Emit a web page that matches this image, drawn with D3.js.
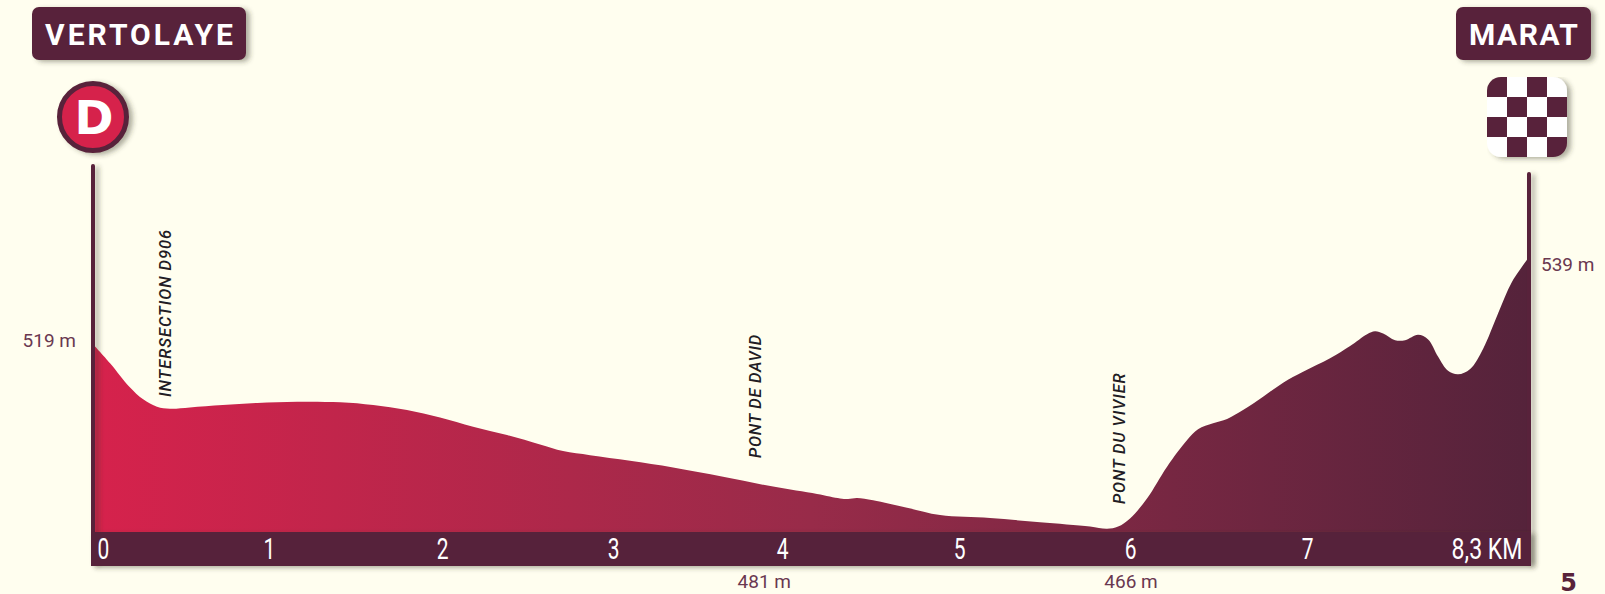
<!DOCTYPE html>
<html lang='en'>
  <head>
    <meta charset='utf-8'>
    <title>Vertolaye - Marat</title>
    <script type='text/javascript' src='https://cdn.jsdelivr.net/npm/d3@7'></script>
    <style>
      html, body { margin: 0; padding: 0; background: #fffeef; }
      svg { display: block; }
    </style>
  </head>
  <body>
    <script type='text/javascript'>

      // profile: distance in km, altitude in m
      var profileKm = [0, 0.10, 0.21, 0.29, 0.37, 0.445, 0.56, 0.75, 0.95, 1.18, 1.43, 1.62, 1.815, 2.006,
                       2.197, 2.393, 2.584, 2.717, 2.873, 3.104, 3.353, 3.642, 3.931, 4.185, 4.318, 4.364,
                       4.416, 4.509, 4.705, 4.896, 5.185, 5.474, 5.763, 5.861, 5.925, 5.994, 6.092, 6.208,
                       6.324, 6.387, 6.474, 6.555, 6.647, 6.763, 6.879, 6.994, 7.15, 7.266, 7.364, 7.41,
                       7.457, 7.526, 7.584, 7.659, 7.717, 7.775, 7.832, 7.89, 7.96, 8.035, 8.121, 8.202, 8.3];
      var profileAlt = [516.5, 511.3, 505, 501.6, 499.6, 499.05, 499.4, 500.05, 500.6, 500.95, 500.8, 500.05, 498.7, 496.7,
                        494.2, 491.95, 489.4, 487.6, 486.5, 485, 483.2, 480.7, 478, 476, 474.8, 474.65,
                        474.9, 474.3, 472.3, 470.3, 469.5, 468.35, 467.2, 466.6, 467.2, 469.4, 474.8, 483.4,
                        490.6, 493.5, 495.1, 496.3, 498.7, 502.3, 506.1, 509.05, 512.7, 516, 519.2, 520,
                        519.4, 517.6, 517.6, 519.05, 517.8, 513.1, 509.3, 508.35, 509.8, 515.3, 524.8, 533.4, 540];

      var kmTicks = [0, 1, 2, 3, 4, 5, 6, 7, 8.3];
      var kmTickLabels = ['0', '1', '2', '3', '4', '5', '6', '7', '8,3 KM'];

      var placeNames = ['INTERSECTION D906', 'PONT DE DAVID', 'PONT DU VIVIER'];
      var placeKm = [0.45, 3.86, 5.965];

      var lowKm = [3.88, 6.0];
      var lowLabels = ['481 m', '466 m'];
      var startLabel = '519 m';
      var finishLabel = '539 m';
      var startName = 'VERTOLAYE';
      var finishName = 'MARAT';
      var stageNumber = '5';

      var w = 1605;
      var h = 594;
      var dark = '#59233a';
      var red = '#d6224c';
      var stripTop = 532;
      var stripBottom = 566;

      var xScale = d3.scaleLinear().domain([0, 8.3]).range([93, 1529]);
      var yScale = d3.scaleLinear().domain([466, 539]).range([531, 261]);

      var svg = d3.select('body')
                  .append('svg')
                  .attr('width', w)
                  .attr('height', h);

      var defs = svg.append('defs');

      // thin vertical lines need a filter region in user space
      var lineShadow = defs.append('filter')
                           .attr('id', 'lineShadow')
                           .attr('filterUnits', 'userSpaceOnUse')
                           .attr('x', 0).attr('y', 0)
                           .attr('width', w).attr('height', h);
      lineShadow.append('feDropShadow')
                .attr('dx', 4).attr('dy', 2)
                .attr('stdDeviation', 2.5)
                .attr('flood-color', '#3a3a2a')
                .attr('flood-opacity', 0.4);

      var grad = defs.append('linearGradient')
                     .attr('id', 'profileFill')
                     .attr('x1', '0%').attr('x2', '100%')
                     .attr('y1', '0%').attr('y2', '0%');
      grad.append('stop').attr('offset', '0%').attr('stop-color', red);
      grad.append('stop').attr('offset', '50%').attr('stop-color', '#982b49');
      grad.append('stop').attr('offset', '100%').attr('stop-color', '#55233b');

      var area = d3.area()
                   .x(function(d){ return xScale(d[0]); })
                   .y0(stripTop + 1)
                   .y1(function(d){ return yScale(d[1]); })
                   .curve(d3.curveCatmullRom.alpha(0.5));

      svg.append('path')
         .datum(d3.zip(profileKm, profileAlt))
         .attr('d', area)
         .attr('fill', 'url(#profileFill)');

      // start and finish posts
      svg.selectAll('line.post')
         .data([[0, 166], [8.3, 174]])
         .enter()
         .append('line')
         .attr('class', 'post')
         .attr('x1', function(d){ return xScale(d[0]); })
         .attr('x2', function(d){ return xScale(d[0]); })
         .attr('y1', function(d){ return d[1]; })
         .attr('y2', stripBottom - 4)
         .attr('stroke', dark)
         .attr('stroke-width', 4)
         .attr('stroke-linecap', 'round')
         .attr('filter', 'url(#lineShadow)');

      // distance strip
      svg.append('rect')
         .attr('x', 91)
         .attr('y', stripTop)
         .attr('width', 1531 - 91)
         .attr('height', stripBottom - stripTop)
         .attr('fill', '#57233a')
         .attr('filter', 'url(#lineShadow)');

      var axis = d3.axisBottom(xScale)
                   .tickValues(kmTicks)
                   .tickSize(0)
                   .tickFormat(function(d, i){ return kmTickLabels[i]; });

      var axisG = svg.append('g')
                     .attr('transform', 'translate(1,' + stripTop + ')')
                     .call(axis);
      axisG.select('.domain').remove();

      // the labels are a tall condensed face, so squeeze Roboto sideways
      var tickNudge = [9, 2, 2, 0, -4, 0, -2, 2, -8];
      axisG.selectAll('text')
           .attr('x', 0)
           .attr('y', 0)
           .attr('dy', 0)
           .attr('transform', function(d, i){
             return 'translate(' + tickNudge[i] + ',27) scale(' + (d === 8.3 ? 0.77 : 0.7) + ',1)';
           })
           .attr('font-family', 'Roboto, sans-serif')
           .attr('font-size', '30px')
           .attr('fill', '#ffffff')
           .attr('text-anchor', function(d){ return d === 8.3 ? 'end' : 'middle'; });

      // place names along the road
      var placeFoot = [397, 458, 504];
      var placeSpacing = [0.95, 0.7, 0.85];
      svg.selectAll('text.place')
         .data(placeNames)
         .enter()
         .append('text')
         .attr('class', 'place')
         .text(function(d){ return d; })
         .attr('transform', function(d, i){
           return 'translate(' + xScale(placeKm[i]) + ',' + placeFoot[i] + ') rotate(-90)';
         })
         .attr('font-family', 'Roboto, sans-serif')
         .attr('font-size', '16.5px')
         .attr('font-style', 'italic')
         .attr('font-weight', 500)
         .attr('letter-spacing', function(d, i){ return placeSpacing[i] + 'px'; })
         .attr('fill', '#221c24');

      // altitude labels
      function altText(txt, x, y, anchor){
        svg.append('text')
           .text(txt)
           .attr('x', x)
           .attr('y', y)
           .attr('text-anchor', anchor)
           .attr('font-family', 'Roboto, sans-serif')
           .attr('font-size', '19px')
           .attr('fill', '#6a3850');
      }
      altText(startLabel, 76, 347, 'end');
      altText(finishLabel, 1541, 271, 'start');
      lowLabels.forEach(function(d, i){
        altText(d, xScale(lowKm[i]), 588, 'middle');
      });

      // name boxes
      function nameBox(txt, x0, x1, spacing){
        svg.append('rect')
           .attr('x', x0).attr('y', 7)
           .attr('width', x1 - x0).attr('height', 53)
           .attr('rx', 7)
           .attr('fill', dark)
           .attr('filter', 'url(#lineShadow)');
        svg.append('text')
           .text(txt)
           .attr('x', (x0 + x1) / 2 + spacing / 2)
           .attr('y', 44.5)
           .attr('text-anchor', 'middle')
           .attr('font-family', 'Roboto, sans-serif')
           .attr('font-weight', 700)
           .attr('font-size', '30px')
           .attr('letter-spacing', spacing + 'px')
           .attr('fill', '#ffffff');
      }
      nameBox(startName, 32, 246, 3);
      nameBox(finishName, 1456, 1591, 1.5);

      // start badge
      svg.append('circle')
         .attr('cx', 93).attr('cy', 117).attr('r', 33.5)
         .attr('fill', red)
         .attr('stroke', dark)
         .attr('stroke-width', 5)
         .attr('filter', 'url(#lineShadow)');
      svg.append('text')
         .text('D')
         .attr('x', 94).attr('y', 134)
         .attr('text-anchor', 'middle')
         .attr('font-family', "'DejaVu Sans', sans-serif")
         .attr('font-weight', 700)
         .attr('font-size', '47px')
         .attr('fill', '#ffffff');

      // finish flag
      var cells = d3.cross(d3.range(4), d3.range(4));
      var cellScale = d3.scaleBand().domain(d3.range(4)).range([0, 80]);
      defs.append('clipPath')
          .attr('id', 'flagClip')
          .append('rect')
          .attr('width', 80).attr('height', 80).attr('rx', 14);
      var flag = svg.append('g')
                    .attr('transform', 'translate(1487,77)')
                    .attr('filter', 'url(#lineShadow)');
      flag.append('g')
          .attr('clip-path', 'url(#flagClip)')
          .selectAll('rect')
          .data(cells)
          .enter()
          .append('rect')
          .attr('x', function(d){ return cellScale(d[0]); })
          .attr('y', function(d){ return cellScale(d[1]); })
          .attr('width', cellScale.bandwidth())
          .attr('height', cellScale.bandwidth())
          .attr('fill', function(d){ return (d[0] + d[1]) % 2 === 0 ? dark : '#ffffff'; });

      // stage number
      svg.append('text')
         .text(stageNumber)
         .attr('x', 1568.5)
         .attr('y', 591)
         .attr('text-anchor', 'middle')
         .attr('font-family', "'DejaVu Sans', sans-serif")
         .attr('font-weight', 700)
         .attr('font-size', '24px')
         .attr('fill', dark);

    </script>
  </body>
</html>
